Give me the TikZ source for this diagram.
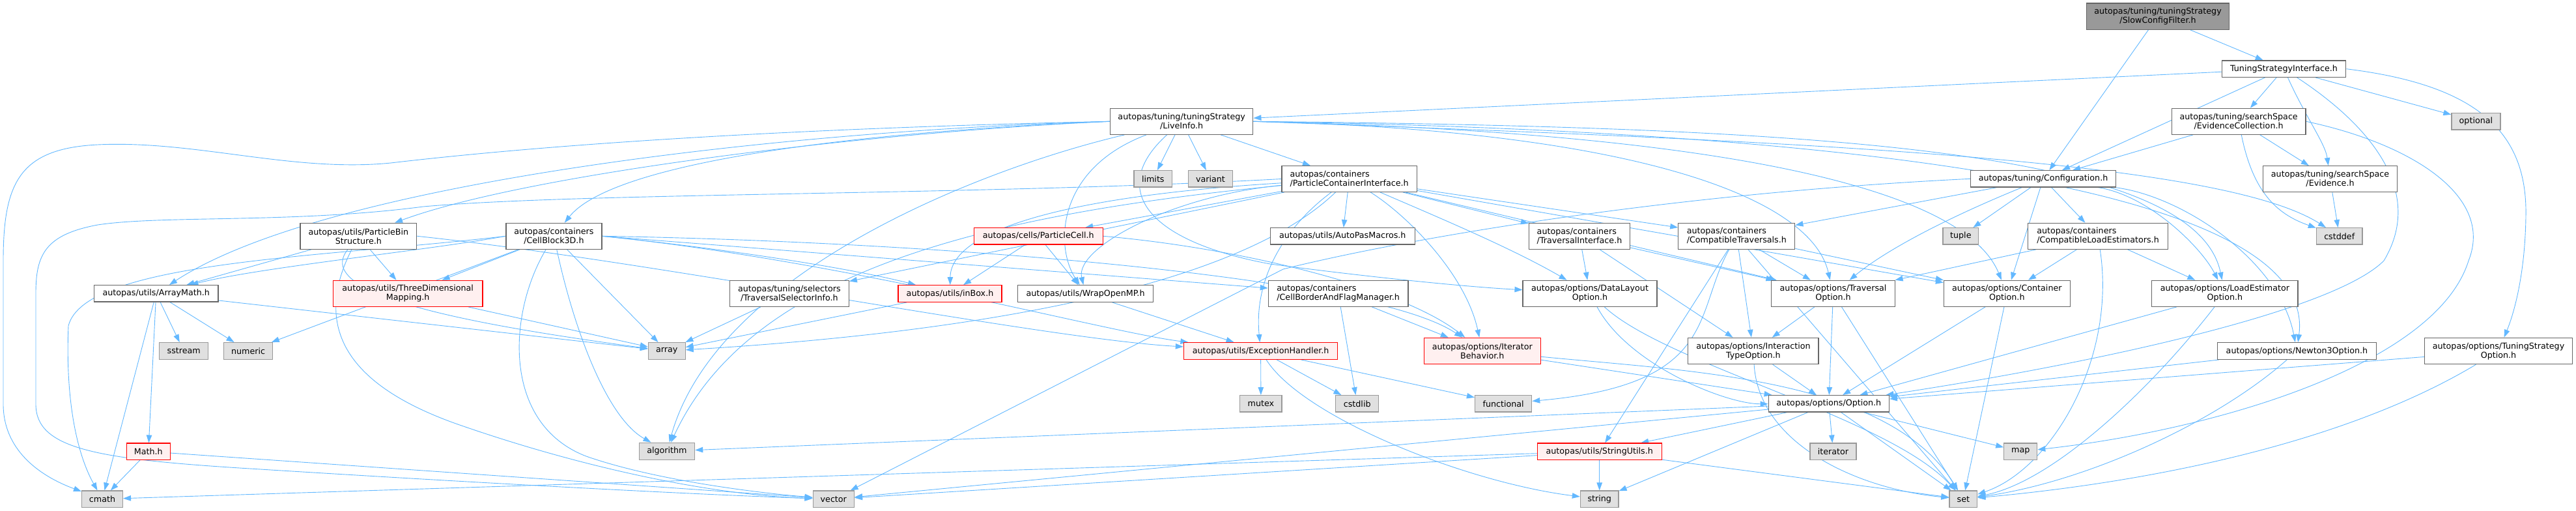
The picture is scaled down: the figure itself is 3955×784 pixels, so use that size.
\documentclass[tikz,border=0pt]{standalone}
\usepackage{fontspec}
\setmainfont{DejaVu Sans}
\usetikzlibrary{arrows.meta}
\definecolor{edgec}{HTML}{63B8FF}
\definecolor{ndb}{HTML}{666666}
\definecolor{sysf}{HTML}{E0E0E0}
\definecolor{sysb}{HTML}{999999}
\definecolor{redf}{HTML}{FFF0F0}
\definecolor{redb}{HTML}{FF0000}
\definecolor{scff}{HTML}{999999}
\pgfdeclarelayer{edges}
\pgfsetlayers{edges,main}
\tikzset{
  nd/.style={draw=ndb, fill=white, line width=1.2pt, inner sep=0pt, align=center, text=black,
    font=\fontsize{12.7}{14}\selectfont},
  rd/.style={nd, draw=redb, fill=redf},
  sy/.style={nd, draw=sysb, fill=sysf},
  sz/.style 2 args={minimum width=#1pt, minimum height=#2pt},
  edg/.style={draw=edgec, line width=0.9pt, -{Triangle[length=12pt,width=8.5pt]}}
}
\begin{document}
\begin{tikzpicture}[x=1pt,y=-1pt]
\useasboundingbox (0,0) rectangle (3955,784);
% ---------- nodes ----------
\node[nd,sz={218.9}{40.3},fill=scff] (SCF) at (3313,25.2) {autopas/tuning/tuningStrategy\\/SlowConfigFilter.h};
\node[nd,sz={190.3}{25.3}] (TSI) at (3506.5,105.7) {TuningStrategyInterface.h};
\node[nd,sz={219.2}{40}] (LI) at (1814.2,186.3) {autopas/tuning/tuningStrategy\\/LiveInfo.h};
\node[nd,sz={205.8}{40}] (EC) at (3437.1,186.3) {autopas/tuning/searchSpace\\/EvidenceCollection.h};
\node[sy,sz={74.9}{25.3}] (OPT) at (3801.4,186.3) {optional};
\node[sy,sz={58.5}{25.3}] (LIM) at (1770.3,274.3) {limits};
\node[sy,sz={68.3}{25.3}] (VAR) at (1858.5,274.3) {variant};
\node[nd,sz={207.3}{39.7},align=left] (PCI) at (2071.6,274.5) {autopas/containers\\/ParticleContainerInterface.h};
\node[nd,sz={223.3}{25.3}] (CONF) at (3137,274.3) {autopas/tuning/Configuration.h};
\node[nd,sz={205.7}{40}] (EV) at (3577.5,274.7) {autopas/tuning/searchSpace\\/Evidence.h};
\node[nd,sz={178.7}{40}] (PBS) at (550.4,362.3) {autopas/utils/ParticleBin\\Structure.h};
\node[nd,sz={147}{40}] (CB3) at (850.4,362.3) {autopas/containers\\/CellBlock3D.h};
\node[rd,sz={197.8}{25.3}] (PC) at (1594.2,362.3) {autopas/cells/ParticleCell.h};
\node[nd,sz={222}{25.3}] (APM) at (2061.2,362.3) {autopas/utils/AutoPasMacros.h};
\node[nd,sz={155.1}{40},align=left] (TI) at (2425,362.3) {autopas/containers\\/TraversalInterface.h};
\node[nd,sz={179}{40},align=left] (CT) at (2666.3,362.3) {autopas/containers\\/CompatibleTraversals.h};
\node[sy,sz={54.5}{25.3}] (TUP) at (3010.3,362.3) {tuple};
\node[nd,sz={215.2}{40},align=left] (CLE) at (3221,362.3) {autopas/containers\\/CompatibleLoadEstimators.h};
\node[sy,sz={70.6}{25.3}] (CSTDDEF) at (3591.7,362.3) {cstddef};
\node[nd,sz={190.6}{25.3}] (AM) at (239.7,450.3) {autopas/utils/ArrayMath.h};
\node[rd,sz={229.5}{40}] (TDM) at (626.2,450.3) {autopas/utils/ThreeDimensional\\Mapping.h};
\node[nd,sz={182.8}{40}] (TSEL) at (1211.9,450.3) {autopas/tuning/selectors\\/TraversalSelectorInfo.h};
\node[rd,sz={159}{25.6}] (INB) at (1458.5,450.5) {autopas/utils/inBox.h};
\node[nd,sz={208.1}{25.6}] (WOMP) at (1666.5,450.5) {autopas/utils/WrapOpenMP.h};
\node[nd,sz={214.6}{40},align=left] (CBFM) at (2054.6,450.3) {autopas/containers\\/CellBorderAndFlagManager.h};
\node[nd,sz={205.9}{40}] (DLO) at (2441,450.3) {autopas/options/DataLayout\\Option.h};
\node[nd,sz={189.8}{40}] (TO) at (2814.5,450.3) {autopas/options/Traversal\\Option.h};
\node[nd,sz={193.7}{40}] (CO) at (3081.3,450.3) {autopas/options/Container\\Option.h};
\node[nd,sz={224.3}{40}] (LEO) at (3415.9,450.3) {autopas/options/LoadEstimator\\Option.h};
\node[sy,sz={74.8}{25.7}] (SST) at (282.2,538.5) {sstream};
\node[sy,sz={75.2}{25.7}] (NUM) at (381.1,538.5) {numeric};
\node[sy,sz={56.8}{25.7}] (ARR) at (1023.7,538.5) {array};
\node[rd,sz={236.4}{25.7}] (EH) at (1935.6,538.5) {autopas/utils/ExceptionHandler.h};
\node[rd,sz={179}{40.3}] (IB) at (2275.8,538.5) {autopas/options/Iterator\\Behavior.h};
\node[nd,sz={200.2}{40.3}] (ITO) at (2691.9,538.5) {autopas/options/Interaction\\TypeOption.h};
\node[nd,sz={243.3}{25.7}] (N3O) at (3526.4,538.5) {autopas/options/Newton3Option.h};
\node[nd,sz={226.9}{40.3}] (TSO) at (3836,538.5) {autopas/options/TuningStrategy\\Option.h};
\node[sy,sz={64.1}{25.3}] (MUT) at (1935.9,619.3) {mutex};
\node[sy,sz={65.8}{25.3}] (CSTDLIB) at (2083.7,619.3) {cstdlib};
\node[sy,sz={87.2}{25.3}] (FUNC) at (2308.1,619.3) {functional};
\node[nd,sz={185.2}{25.3}] (OPTH) at (2807.8,619.3) {autopas/options/Option.h};
\node[rd,sz={66.7}{25.3}] (MATH) at (227.8,692.7) {Math.h};
\node[sy,sz={85.4}{26}] (ALG) at (1023.9,692.3) {algorithm};
\node[rd,sz={191}{25.3}] (SU) at (2455.7,692.7) {autopas/utils/StringUtils.h};
\node[sy,sz={71}{25.3}] (ITER) at (2814.5,692.7) {iterator};
\node[sy,sz={50.9}{25.3}] (MAP) at (3102.2,692.7) {map};
\node[sy,sz={62.8}{25.3}] (CMATH) at (157,765.7) {cmath};
\node[sy,sz={63.3}{25.3}] (VEC) at (1279.8,765.7) {vector};
\node[sy,sz={58.6}{25.3}] (STR) at (2455.7,765.7) {string};
\node[sy,sz={42.8}{25.3}] (SET) at (3014.3,765.7) {set};
% ---------- edges ----------
\begin{pgfonlayer}{edges}
% SlowConfigFilter
\draw[edg] (SCF) -- (TSI);
\draw[edg] (SCF) -- (CONF);
% TuningStrategyInterface
\draw[edg] (TSI) -- (LI);
\draw[edg] (TSI) -- (CONF);
\draw[edg] (TSI) -- (EC);
\draw[edg] (TSI) .. controls (3540,180) and (3570,220) .. (EV);
\draw[edg] (TSI) -- (OPT);
\draw[edg] (TSI.east) .. controls (3800,130) and (3880,200) .. (3878,330) .. controls (3877,420) and (3860,480) .. (TSO);
\draw[edg] (TSI) .. controls (3650,200) and (3720,300) .. (3660,400) .. controls (3580,480) and (3200,560) .. (OPTH);
% EvidenceCollection
\draw[edg] (EC) -- (CONF);
\draw[edg] (EC) -- (EV);
\draw[edg] (EC) .. controls (3460,300) and (3500,330) .. (CSTDDEF);
\draw[edg] (EC.east) .. controls (3700,220) and (3830,300) .. (3790,400) .. controls (3740,560) and (3400,660) .. (MAP);
% Evidence
\draw[edg] (EV) -- (CSTDDEF);
% LiveInfo
\draw[edg] (LI) -- (LIM);
\draw[edg] (LI) -- (VAR);
\draw[edg] (LI) -- (PCI);
\draw[edg] (LI.west) .. controls (1300,205) and (800,270) .. (PBS);
\draw[edg] (LI.west) .. controls (1300,203) and (940,250) .. (CB3);
\draw[edg] (LI.west) .. controls (1200,200) and (500,280) .. (AM);
\draw[edg] (LI.west) .. controls (1300,195) and (900,215) .. (600,250) .. controls (450,265) and (300,215) .. (150,222) .. controls (30,228) and (5,280) .. (5,400) -- (5,620) .. controls (5,690) and (60,730) .. (CMATH);
\draw[edg] (LI.east) .. controls (2800,195) and (3370,230) .. (LEO);
\draw[edg] (LI.east) .. controls (2800,200) and (3560,280) .. (N3O);
\draw[edg] (LI.east) .. controls (2700,205) and (3020,300) .. (CO);
\draw[edg] (LI.east) .. controls (2500,200) and (2780,300) .. (TO);
\draw[edg] (LI) .. controls (1700,290) and (1760,370) .. (1950,405) .. controls (2100,425) and (2250,440) .. (DLO);
\draw[edg] (LI) .. controls (1500,260) and (1100,420) .. (ALG);
\draw[edg] (LI) .. controls (1620,260) and (1620,380) .. (WOMP);
\draw[edg] (LI.east) .. controls (2700,215) and (3400,240) .. (CSTDDEF);
% ParticleContainerInterface
\draw[edg] (PCI) -- (APM);
\draw[edg] (PCI) -- (TI);
\draw[edg] (PCI) -- (CT);
\draw[edg] (PCI) -- (PC);
\draw[edg] (PCI) -- (TSEL);
\draw[edg] (PCI) .. controls (1650,300) and (1460,350) .. (INB);
\draw[edg] (PCI) .. controls (1800,300) and (1650,380) .. (WOMP);
\draw[edg] (PCI) .. controls (2160,330) and (2250,420) .. (IB);
\draw[edg] (PCI) -- (CO);
\draw[edg] (PCI) -- (TO);
\draw[edg] (PCI) .. controls (2200,330) and (2320,380) .. (DLO);
\draw[edg] (PCI) .. controls (1970,350) and (1925,430) .. (EH);
\draw[edg] (PCI.west) .. controls (1500,300) and (900,295) .. (650,317) .. controls (450,343) and (250,330) .. (150,345) .. controls (70,360) and (55,390) .. (55,450) -- (55,620) .. controls (55,690) and (150,705) .. (400,720) .. controls (800,745) and (1100,760) .. (VEC);
\draw[edg] (PCI) .. controls (1500,330) and (1150,420) .. (ALG);
\draw[edg] (PCI) .. controls (1900,440) and (1500,510) .. (ARR);
% CellBlock3D
\draw[edg] (CB3) -- (TDM);
\draw[edg] (CB3.west) .. controls (650,385) and (400,410) .. (AM);
\draw[edg] (CB3.west) .. controls (500,395) and (130,400) .. (105,500) .. controls (100,620) and (120,700) .. (CMATH);
\draw[edg] (CB3) -- (NUM);
\draw[edg] (CB3) -- (ARR);
\draw[edg] (CB3) .. controls (880,500) and (930,640) .. (ALG);
\draw[edg] (CB3) .. controls (780,480) and (770,650) .. (900,700) .. controls (1000,735) and (1150,755) .. (VEC);
\draw[edg] (CB3.east) .. controls (1100,380) and (1300,410) .. (INB);
\draw[edg] (CB3.east) .. controls (1300,400) and (1700,510) .. (EH);
\draw[edg] (CB3.east) -- (CBFM);
\draw[edg] (CB3.east) .. controls (1400,370) and (2100,420) .. (IB);
% ParticleBinStructure
\draw[edg] (PBS) -- (AM);
\draw[edg] (PBS) -- (TDM);
\draw[edg] (PBS) .. controls (480,450) and (700,495) .. (ARR);
\draw[edg] (PBS) .. controls (470,520) and (560,600) .. (700,650) .. controls (900,720) and (1100,760) .. (VEC);
\draw[edg] (PBS.east) .. controls (1000,400) and (1600,520) .. (EH);
% ArrayMath
\draw[edg] (AM) -- (SST);
\draw[edg] (AM) -- (NUM);
\draw[edg] (AM) -- (MATH);
\draw[edg] (AM) -- (CMATH);
\draw[edg] (AM) -- (ARR);
% Math
\draw[edg] (MATH) -- (CMATH);
\draw[edg] (MATH) -- (VEC);
% misc
\draw[edg] (TDM) -- (ARR);
\draw[edg] (TSEL) -- (ARR);
\draw[edg] (INB) -- (ARR);
\draw[edg] (WOMP) -- (EH);
\draw[edg] (PC) -- (INB);
\draw[edg] (PC) -- (WOMP);
\draw[edg] (PC.east) .. controls (1900,380) and (2150,440) .. (IB);
% ExceptionHandler
\draw[edg] (EH) -- (MUT);
\draw[edg] (EH) -- (CSTDLIB);
\draw[edg] (EH) -- (FUNC);
\draw[edg] (EH) .. controls (2000,640) and (2250,740) .. (STR);
% CellBorderAndFlagManager
\draw[edg] (CBFM) -- (CSTDLIB);
\draw[edg] (CBFM) -- (IB);
% TraversalInterface
\draw[edg] (TI) -- (DLO);
\draw[edg] (TI) -- (TO);
\draw[edg] (TI) -- (ITO);
% CompatibleTraversals
\draw[edg] (CT) -- (TO);
\draw[edg] (CT) -- (CO);
\draw[edg] (CT) -- (ITO);
\draw[edg] (CT) -- (SU);
\draw[edg] (CT) -- (SET);
\draw[edg] (CT) .. controls (2600,480) and (2640,590) .. (FUNC);
% CompatibleLoadEstimators
\draw[edg] (CLE) -- (CO);
\draw[edg] (CLE) -- (LEO);
\draw[edg] (CLE) -- (TO);
\draw[edg] (CLE) .. controls (3250,550) and (3150,720) .. (SET);
% Configuration
\draw[edg] (CONF) -- (CT);
\draw[edg] (CONF) .. controls (3000,330) and (2900,380) .. (TO);
\draw[edg] (CONF) -- (TUP);
\draw[edg] (CONF) -- (CO);
\draw[edg] (CONF) -- (CLE);
\draw[edg] (CONF) .. controls (3300,300) and (3380,380) .. (LEO);
\draw[edg] (CONF) .. controls (3350,300) and (3500,400) .. (N3O);
\draw[edg] (CONF.west) .. controls (2500,300) and (2100,380) .. (1970,413) -- (VEC);
% options
\draw[edg] (TO) -- (ITO);
\draw[edg] (TO) -- (OPTH);
\draw[edg] (TO) -- (SET);
\draw[edg] (CO) -- (OPTH);
\draw[edg] (CO) -- (SET);
\draw[edg] (DLO) .. controls (2500,560) and (2650,620) .. (OPTH);
\draw[edg] (DLO) .. controls (2560,560) and (2900,640) .. (SET);
\draw[edg] (LEO) -- (OPTH);
\draw[edg] (LEO) .. controls (3300,600) and (3150,740) .. (SET);
\draw[edg] (N3O) -- (OPTH);
\draw[edg] (N3O) .. controls (3400,650) and (3200,740) .. (SET);
\draw[edg] (TSO) -- (OPTH);
\draw[edg] (TSO) .. controls (3600,680) and (3300,740) .. (SET);
\draw[edg] (ITO) -- (OPTH);
\draw[edg] (ITO) .. controls (2700,680) and (2850,750) .. (SET);
\draw[edg] (IB) -- (OPTH);
\draw[edg] (IB) .. controls (2600,570) and (2900,580) .. (SET);
% Option.h
\draw[edg] (OPTH) -- (ITER);
\draw[edg] (OPTH) -- (MAP);
\draw[edg] (OPTH) -- (SET);
\draw[edg] (OPTH) -- (SU);
\draw[edg] (OPTH) -- (STR);
\draw[edg] (OPTH) -- (ALG);
\draw[edg] (OPTH) -- (VEC);
% StringUtils
\draw[edg] (SU) -- (STR);
\draw[edg] (SU) -- (CMATH);
\draw[edg] (SU) -- (VEC);
\draw[edg] (SU) -- (SET);
\end{pgfonlayer}
\end{tikzpicture}
\end{document}
